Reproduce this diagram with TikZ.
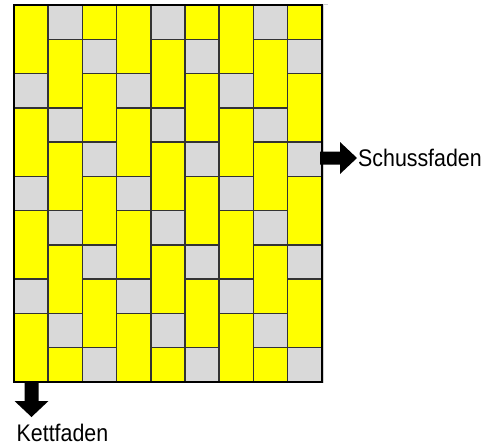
\documentclass[tikz,border=0pt]{standalone}
\usepackage{fontspec}
\setmainfont{Liberation Sans}[FakeStretch=0.89]
\definecolor{threadyellow}{HTML}{FFFF00}
\definecolor{threadgray}{HTML}{D9D9D9}
\begin{document}
\begin{tikzpicture}[x=1pt,y=-1pt,
  cellline/.style={draw=black!80,line width=1.5pt},
  yellowcell/.style={cellline,fill=threadyellow},
  graycell/.style={cellline,fill=threadgray},
  arrowshape/.style={fill=black,draw=none},
  labeltext/.style={anchor=base west,inner sep=0pt,text depth=0pt,font=\fontsize{24}{28}\selectfont}]
\useasboundingbox (0,0) rectangle (491,445);
\def\xo{14}\def\cw{34.19}\def\yo{5}\def\rh{34.25}
% faint shadow line at right
\draw[black!18,line width=1pt] (323.8,4.6) -- (323.8,382.5);
\draw[black!18,line width=1pt] (321,4.6) -- (328,4.6);
\foreach \c in {0,...,8}{
  \pgfmathtruncatemacro{\off}{mod(\c+2,3)}
  \foreach \k in {-1,...,3}{
    \pgfmathtruncatemacro{\g}{3*\k+\off}
    \pgfmathtruncatemacro{\ya}{max(\g+1,0)}
    \pgfmathtruncatemacro{\yb}{min(\g+3,11)}
    \ifnum\ya<\yb
      \path[yellowcell] ({\xo+\c*\cw},{\yo+\ya*\rh}) rectangle ({\xo+(\c+1)*\cw},{\yo+\yb*\rh});
    \fi
    \ifnum\g>-1 \ifnum\g<11
      \path[graycell] ({\xo+\c*\cw},{\yo+\g*\rh}) rectangle ({\xo+(\c+1)*\cw},{\yo+(\g+1)*\rh});
    \fi\fi
  }
}
\draw[black,line width=1.6pt] (\xo,\yo) rectangle ({\xo+9*\cw},{\yo+11*\rh});
% arrows
\path[arrowshape] (320,151.5) -- (340,151.5) -- (340,142) -- (357,158) -- (340,174) -- (340,164.5) -- (320,164.5) -- cycle;
\path[arrowshape] (24.5,382) -- (38.5,382) -- (38.5,401) -- (48.5,401) -- (31.5,417) -- (14.5,401) -- (24.5,401) -- cycle;
\node[labeltext] (schuss) at (358,166.7) {Schussfaden};
\node[labeltext] (kett) at (16.5,441) {Kettfaden};
\end{tikzpicture}
\end{document}
